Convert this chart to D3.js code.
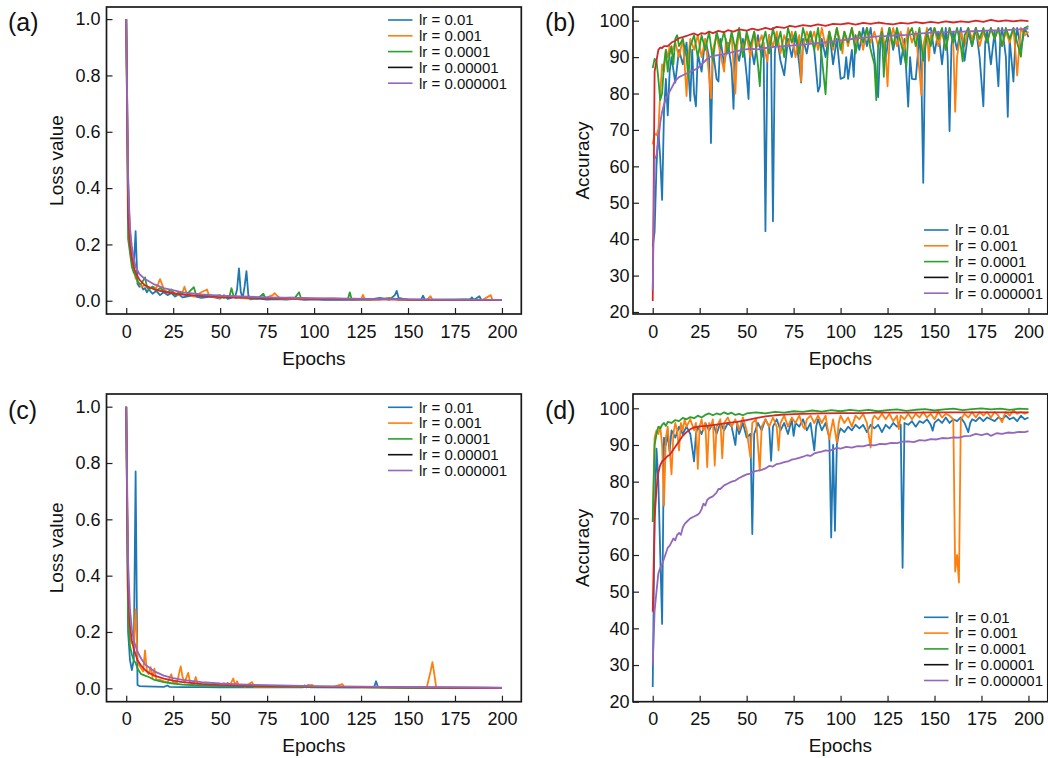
<!DOCTYPE html>
<html>
<head>
<meta charset="utf-8">
<script src="https://cdn.jsdelivr.net/npm/d3@7"></script>
<style>
  body { margin: 0; background: #fff; }
  text { font-family: "Liberation Sans", Arial, sans-serif; fill: #111; }
</style>
</head>
<body>
<svg id="fig" width="1048" height="758"></svg>
<script>
// legend labels, one per learning rate
var lrLabels = ["lr = 0.01", "lr = 0.001", "lr = 0.0001", "lr = 0.00001", "lr = 0.000001"];
var xTicks = [0, 25, 50, 75, 100, 125, 150, 175, 200];
var lossTicks = [0, 0.2, 0.4, 0.6, 0.8, 1.0];
var accTicks = [20, 30, 40, 50, 60, 70, 80, 90, 100];

// (a) loss, [epoch, value]
var a_lr1 = [[0,1.0],[1,0.45],[2,0.2],[3,0.15],[4,0.12],[5,0.247],[6,0.06],[7,0.05],[8,0.055],[9,0.04],[10,0.045],[11,0.03],[12,0.04],[14,0.025],[16,0.035],[18,0.02],[20,0.03],[22,0.02],[24,0.028],[26,0.015],[28,0.022],[30,0.012],[35,0.018],[40,0.01],[45,0.015],[50,0.008],[52,0.02],[54,0.007],[58,0.015],[59,0.04],[60,0.115],[61,0.03],[62,0.01],[63,0.05],[64,0.105],[65,0.02],[66,0.005],[70,0.008],[75,0.004],[80,0.006],[85,0.004],[90,0.007],[95,0.003],[100,0.005],[105,0.003],[110,0.004],[120,0.003],[130,0.005],[135,0.01],[140,0.004],[143,0.02],[144,0.035],[145,0.01],[150,0.003],[157,0.004],[158,0.018],[159,0.003],[170,0.002],[180,0.004],[183,0.004],[184,0.012],[185,0.003],[188,0.016],[189,0.003],[200,0.002]];
var a_lr2 = [[0,1.0],[1,0.39],[2,0.25],[3,0.15],[4,0.11],[5,0.08],[6,0.07],[7,0.06],[8,0.05],[10,0.055],[12,0.04],[14,0.05],[16,0.045],[17,0.06],[18,0.077],[19,0.06],[20,0.04],[22,0.03],[24,0.035],[26,0.025],[28,0.02],[30,0.03],[31,0.05],[32,0.03],[34,0.02],[36,0.015],[40,0.03],[43,0.04],[44,0.02],[46,0.015],[50,0.01],[54,0.015],[60,0.01],[65,0.008],[70,0.01],[75,0.012],[78,0.02],[79,0.027],[80,0.02],[82,0.008],[90,0.006],[100,0.005],[110,0.008],[120,0.005],[125,0.006],[126,0.021],[127,0.005],[135,0.004],[140,0.01],[145,0.003],[150,0.004],[160,0.003],[162,0.016],[163,0.003],[170,0.003],[180,0.002],[190,0.004],[194,0.02],[195,0.003],[200,0.002]];
var a_lr3 = [[0,1.0],[1,0.22],[2,0.17],[3,0.12],[4,0.1],[5,0.09],[6,0.07],[7,0.06],[8,0.06],[10,0.083],[11,0.05],[12,0.04],[14,0.05],[16,0.035],[18,0.045],[20,0.035],[22,0.03],[24,0.04],[26,0.02],[28,0.03],[30,0.025],[32,0.02],[34,0.035],[36,0.048],[37,0.025],[38,0.02],[40,0.015],[42,0.02],[45,0.015],[50,0.02],[52,0.01],[55,0.015],[56,0.045],[57,0.02],[58,0.01],[62,0.015],[65,0.01],[70,0.008],[73,0.025],[74,0.01],[80,0.008],[85,0.01],[90,0.012],[92,0.03],[93,0.01],[100,0.006],[110,0.005],[118,0.006],[119,0.03],[120,0.005],[130,0.004],[140,0.008],[150,0.004],[160,0.003],[170,0.004],[180,0.005],[190,0.003],[200,0.003]];
var a_lr4 = [[0,1.0],[1,0.3],[2,0.2],[3,0.15],[4,0.12],[5,0.1],[7,0.075],[10,0.055],[15,0.04],[20,0.032],[30,0.022],[40,0.017],[50,0.013],[75,0.009],[100,0.006],[150,0.004],[200,0.002]];
var a_lr5 = [[0,1.0],[1,0.42],[2,0.26],[3,0.19],[4,0.15],[5,0.12],[7,0.095],[10,0.077],[15,0.058],[20,0.045],[30,0.03],[40,0.023],[50,0.018],[75,0.012],[100,0.009],[150,0.005],[200,0.003]];

// (b) accuracy
var b_lr1 = [[0,38],[1,42],[2,60],[3,70],[4,62],[5,50.8],[6,75],[7,84],[8,74],[9,86],[10,90],[12,83],[14,92],[16,88],[18,94],[19,86],[20,78],[21,92],[22,80],[23,76.5],[24,91],[26,86],[28,95],[30,90],[31,66.4],[32,92],[34,84],[35,83.3],[36,95],[38,88],[40,94],[42,87],[43,75.8],[44,93],[46,89],[48,95],[50,85],[51,78.5],[52,94],[54,88],[56,96],[58,90],[59,94],[60,42.2],[61,90],[62,96],[63,92],[64,44.9],[65,91],[66,96],[68,89],[70,85],[72,95],[74,90],[76,96],[78,88],[79,83],[80,95],[82,91],[84,97],[86,92],[88,80.5],[89,82],[90,95],[92,90],[94,97],[96,88],[98,95],[100,84],[102,84.5],[103,90],[104,84],[106,92],[107,84.6],[108,96],[110,92],[112,98],[114,93],[116,98],[118,90],[120,79],[121,92],[122,97],[124,89],[126,98],[128,92],[130,97],[132,88],[134,95],[136,76.4],[137,90],[138,84],[140,83.9],[141,90],[142,97],[143,85],[144,55.5],[145,92],[146,97],[148,98],[150,91],[152,97],[154,88],[156,98],[157,90],[158,69.7],[159,93],[160,97],[162,92],[164,98],[166,89],[168,97],[170,93],[172,98],[174,90],[176,76.5],[177,94],[178,97],[180,88],[182,97],[184,82],[185,95],[186,98],[188,90],[189,73.6],[190,95],[192,83.3],[193,94],[194,98],[196,92],[198,98],[200,95.5]];
var b_lr2 = [[0,66],[1,69],[2,68.6],[3,70],[4,80],[5,88],[6,86],[7,92],[8,90],[9,93],[10,91],[12,94],[14,90],[16,95],[17,88],[18,79.3],[19,90],[20,95],[22,92],[24,96],[26,90],[28,95],[30,85],[31,78.7],[32,92],[34,96],[36,91],[38,86],[39,95],[40,92],[42,96],[43,88],[44,80],[45,93],[46,97],[48,92],[50,96],[52,90],[54,97],[56,93],[58,96],[60,91],[61,88.8],[62,96],[64,93],[66,97],[68,91],[70,96],[72,93],[74,97],[76,90],[78,96],[79,83.3],[80,93],[82,97],[84,94],[86,97],[88,92],[90,98],[92,93],[94,97],[96,92],[98,98],[100,94],[101,91],[102,97],[104,93],[106,98],[108,94],[110,97],[112,92],[114,98],[116,94],[118,97],[120,93],[122,98],[124,91],[125,82],[126,94],[128,98],[130,93],[132,97],[134,92],[136,98],[138,94],[140,97],[142,86],[143,79.6],[144,93],[146,98],[147,89],[148,96],[150,98],[152,93],[154,97],[156,92],[158,98],[160,94],[161,75],[162,90],[164,97],[166,93],[168,98],[170,95],[172,98],[174,93],[176,97],[178,94],[180,98],[182,95],[184,98],[186,93],[188,97],[190,94],[192,98],[193,92],[194,85],[195,92],[196,98],[198,96],[200,97]];
var b_lr3 = [[0,87],[1,89.5],[2,89],[3,84],[4,78.2],[5,80],[6,88],[7,92],[8,86],[9,91],[10,93],[11,88],[12,95],[13,96],[14,93],[16,95],[18,90],[19,84.2],[20,93],[22,96],[24,90],[26,96],[28,92],[30,97],[32,89],[34,97],[36,93],[38,97],[40,91],[42,97],[44,92],[46,98],[48,90],[50,97],[52,93],[54,97],[56,88],[57,82],[58,93],[60,97],[62,91],[64,98],[66,93],[68,97],[70,90],[72,98],[74,94],[76,97],[78,91],[80,98],[82,94],[84,97],[86,92],[88,98],[90,90],[92,79.8],[93,90],[94,97],[96,93],[98,98],[100,92],[102,97],[104,94],[106,98],[108,91],[110,97],[112,94],[114,98],[116,92],[118,88],[119,78.2],[120,93],[122,97],[123,84.6],[124,94],[126,98],[128,93],[130,98],[132,94],[134,90],[135,87.4],[136,96],[138,98],[140,93],[142,98],[144,89],[146,97],[148,93],[150,98],[152,95],[154,98],[156,92],[158,98],[160,94],[162,98],[164,93],[165,88.8],[166,96],[168,98],[170,93],[172,98],[174,95],[176,98],[178,94],[180,98],[182,95],[184,98],[186,93],[188,98],[190,95],[192,98],[194,94],[196,90.1],[197,96],[198,98],[200,98.5]];
var b_lr4 = [[0,23],[1,86],[2,89],[3,92],[4,92.6],[5,92.5],[6,93],[8,93],[10,94],[12,94.5],[14,95.2],[16,95.5],[18,95.8],[20,96.2],[22,96.5],[24,96],[26,96.6],[28,96.4],[30,97],[32,96.6],[35,97.2],[38,96.8],[40,97.4],[43,97],[46,97.6],[50,97.3],[53,97.8],[56,97.4],[60,98],[63,97.6],[66,98.3],[70,98],[73,98.6],[76,98.3],[80,98.8],[84,98.5],[88,99],[92,98.6],[96,99.1],[100,99],[104,99.3],[108,98.9],[112,99.4],[116,99.1],[120,99.5],[124,99.2],[128,99],[132,99.4],[136,99.2],[140,99.6],[144,99.3],[148,99.7],[152,99.4],[156,99.8],[160,99.5],[164,99.8],[168,99.6],[172,100],[176,99.7],[180,100.2],[184,99.8],[188,100.1],[192,99.8],[196,100.1],[200,99.9]];
var b_lr5 = [[0,26],[1,62],[2,63],[3,67],[4,72],[5,75],[6,77],[7,78.5],[8,79.5],[9,80.5],[10,81.5],[12,83.5],[14,84.5],[16,85],[18,85.5],[20,86],[22,86.4],[24,87],[26,88],[28,89],[30,90],[33,90.4],[36,90.6],[40,91],[44,91.6],[48,92],[52,92.3],[56,92.1],[60,92.5],[65,92.8],[70,93],[75,93.2],[80,93.4],[85,93.7],[90,94],[95,94.2],[100,94.6],[105,94.9],[110,95.2],[115,95.5],[120,95.7],[125,95.8],[130,96],[135,96.1],[140,96.4],[145,96.6],[150,96.8],[155,96.8],[160,97],[165,97],[170,97.1],[175,97.2],[180,97.3],[185,97.3],[190,97.5],[195,97.6],[200,97.8]];

// (c) loss
var c_lr1 = [[0,1.0],[1,0.2],[2,0.1],[3,0.065],[4,0.1],[5,0.77],[6,0.012],[7,0.008],[10,0.007],[15,0.006],[20,0.005],[22,0.01],[23,0.005],[30,0.004],[40,0.004],[50,0.003],[60,0.003],[80,0.003],[94,0.003],[95,0.01],[96,0.003],[97,0.012],[98,0.003],[100,0.003],[120,0.003],[132,0.005],[133,0.025],[134,0.004],[150,0.002],[200,0.001]];
var c_lr2 = [[0,1.0],[1,0.3],[2,0.18],[3,0.16],[4,0.15],[5,0.28],[6,0.1],[7,0.08],[8,0.07],[9,0.06],[10,0.135],[11,0.06],[12,0.05],[13,0.075],[14,0.04],[15,0.07],[16,0.03],[18,0.03],[20,0.025],[22,0.02],[24,0.05],[25,0.02],[27,0.02],[29,0.078],[30,0.04],[31,0.02],[33,0.055],[34,0.02],[36,0.015],[37,0.04],[38,0.015],[40,0.012],[45,0.01],[50,0.01],[52,0.018],[53,0.008],[54,0.02],[55,0.008],[57,0.035],[58,0.01],[59,0.025],[60,0.008],[62,0.012],[63,0.005],[67,0.022],[68,0.005],[75,0.004],[80,0.006],[90,0.004],[99,0.012],[100,0.004],[110,0.004],[115,0.015],[116,0.004],[130,0.003],[150,0.003],[160,0.004],[162,0.06],[163,0.093],[164,0.05],[165,0.003],[180,0.002],[200,0.001]];
var c_lr3 = [[0,1.0],[1,0.25],[2,0.15],[3,0.12],[4,0.1],[5,0.09],[6,0.07],[7,0.06],[8,0.05],[10,0.045],[12,0.04],[15,0.03],[20,0.022],[25,0.017],[30,0.013],[40,0.01],[50,0.008],[75,0.005],[100,0.004],[150,0.002],[200,0.001]];
var c_lr4 = [[0,1.0],[1,0.35],[2,0.22],[3,0.17],[4,0.14],[5,0.12],[6,0.1],[8,0.08],[10,0.065],[12,0.055],[15,0.045],[20,0.034],[25,0.027],[30,0.022],[40,0.016],[50,0.012],[60,0.01],[75,0.008],[100,0.006],[125,0.004],[150,0.003],[175,0.002],[200,0.001]];
var c_lr5 = [[0,1.0],[1,0.45],[2,0.28],[3,0.21],[4,0.17],[5,0.15],[6,0.13],[8,0.105],[10,0.085],[12,0.075],[15,0.06],[20,0.045],[25,0.036],[30,0.03],[40,0.022],[50,0.017],[60,0.014],[75,0.011],[100,0.008],[125,0.006],[150,0.004],[175,0.003],[200,0.002]];

// (d) accuracy
var d_lr1 = [[0,24],[1,70],[2,89],[3,80],[4,60],[5,41.2],[6,92],[7,90],[8,93],[9,88],[10,94],[12,92],[14,95],[16,93],[18,95],[20,93],[22,85.5],[23,93],[24,95],[26,93],[28,96],[30,94],[32,96],[34,93],[36,96],[38,94],[40,96],[42,95],[44,90],[45,96],[46,93],[48,96],[50,92],[52,93],[53,65.7],[54,93],[56,96],[58,94],[60,97],[62,95],[63,85.7],[64,95],[66,97],[68,94],[70,96],[72,93],[74,97],[75,92.5],[76,96],[78,95],[80,97],[82,94],[84,96],[86,88.5],[87,95],[88,97],[90,94],[92,96],[94,92],[95,64.8],[96,90],[97,66.6],[98,90],[99,93],[100,94.5],[102,93.5],[104,95],[106,94],[108,95.5],[110,94.5],[112,95.5],[114,93.5],[116,95.5],[118,94.5],[120,95.5],[122,93.5],[124,95.5],[126,94.5],[128,96],[130,95],[132,95.5],[133,56.5],[134,96],[136,95.5],[138,96.5],[140,95],[142,96.5],[144,96],[146,97],[148,95.5],[149,93.9],[150,96],[152,97],[154,96],[156,97.5],[158,96],[160,97],[162,96.5],[164,97.5],[166,96],[168,93.5],[169,96],[170,97],[172,96.5],[174,97.5],[176,96.5],[178,97.5],[180,97],[182,96.5],[184,97.5],[186,97],[188,98],[190,97],[192,97.5],[194,96.5],[196,98],[198,97],[200,97.5]];
var d_lr2 = [[0,69],[1,92],[2,94],[3,93],[4,95],[5,90],[6,73.5],[7,92],[8,95],[9,89],[10,82],[11,93],[12,96],[13,94],[14,88.5],[15,96],[16,94],[17,97],[18,95],[20,97],[22,94],[23,96],[24,83.5],[25,95],[26,97],[27,94],[28,96],[29,84],[30,96],[31,95],[32,97],[33,84.4],[34,95],[36,97],[37,86.4],[38,96],[40,97.5],[42,95],[44,97],[46,94],[48,97.5],[50,94],[52,86.6],[53,96],[55,97],[56,90],[57,83],[58,95],[60,97],[62,95],[64,97.5],[66,95],[67,88.5],[68,96],[70,98],[72,95],[74,97.5],[76,96],[78,98],[80,95],[81,94.4],[82,97],[84,98],[86,96],[88,98],[90,96],[92,98],[94,91.6],[96,97],[98,90.7],[99,96],[100,98],[102,96],[104,97.5],[106,95],[108,98],[110,97],[112,98.5],[114,96],[116,89.3],[117,97],[118,98],[120,97],[122,98.5],[124,97],[126,98.5],[128,96.5],[130,98],[131,94.3],[132,98],[134,97],[136,98.5],[138,97],[140,98.5],[142,97.5],[144,99],[146,97.5],[148,98.5],[150,97],[152,99],[154,97.5],[156,98.5],[158,98],[160,97],[161,55.5],[162,60],[163,52.5],[164,97],[166,98.5],[168,97.5],[170,99],[172,97.5],[174,99],[176,98],[178,99],[180,97.5],[182,99],[184,98],[186,96.2],[187,98],[188,99],[190,98],[192,99.5],[194,98.5],[196,99],[198,98.5],[200,99]];
var d_lr3 = [[0,69],[1,90],[2,93],[3,95],[4,94.5],[5,95.5],[6,96],[7,95.2],[8,96.3],[10,96],[12,96.8],[14,96.5],[16,97.4],[18,97],[20,97.6],[22,97.3],[24,98],[26,97.5],[28,98.2],[30,98.6],[32,98.1],[34,98.6],[36,98.3],[38,98.9],[40,98.4],[42,98.8],[44,98.2],[46,98.5],[48,98.1],[50,98.6],[55,98.9],[60,98.6],[65,99],[70,98.8],[75,99.2],[80,99],[85,99.4],[90,99.1],[95,99.5],[100,99.2],[105,99.6],[110,99.3],[115,99.6],[120,99.2],[125,99.5],[130,99.7],[135,99.3],[140,99.6],[145,99.8],[150,99.4],[155,99.7],[160,99.9],[165,99.5],[170,99.8],[175,100],[180,99.7],[185,99.9],[190,99.6],[195,99.9],[200,99.8]];
var d_lr4 = [[0,44.5],[1,70],[2,78],[3,82.5],[4,84.5],[5,85.5],[6,86],[7,86.5],[8,87],[9,87.3],[10,88],[12,89.5],[14,91],[16,92.5],[18,93.5],[20,94.3],[22,94.8],[25,95.1],[30,95.3],[35,95.6],[40,96],[45,96.3],[50,96.8],[55,97.3],[60,97.8],[65,98.1],[70,98.3],[75,98.4],[80,98.5],[90,98.6],[100,98.7],[110,98.7],[120,98.8],[130,98.8],[140,98.8],[150,98.9],[160,98.9],[170,98.9],[180,98.9],[190,98.9],[200,98.9]];
var d_lr5 = [[0,30],[1,44.7],[2,50],[3,55],[4,56.5],[5,57.5],[6,59],[7,60.5],[8,62],[9,62.5],[10,63.5],[11,64.5],[12,64],[13,65.5],[14,66],[15,65.5],[16,67.5],[17,68.5],[18,69],[19,69.5],[20,70],[22,70.5],[24,71],[25,71.5],[26,72.5],[27,74],[28,73.5],[29,75],[30,75.5],[32,76],[34,77],[35,78],[36,78],[38,79],[40,79.5],[42,80],[44,80.3],[46,81],[48,81.5],[50,82],[52,82.2],[54,82.8],[56,83],[58,83.2],[60,83.6],[62,84.3],[64,84.1],[66,84.8],[68,85],[70,85.3],[72,85.5],[74,86],[76,86.2],[78,86.5],[80,86.8],[82,87.2],[84,87],[86,87.7],[88,88],[90,88.2],[92,88.5],[94,88.4],[96,88.8],[98,89.2],[100,89],[103,89.5],[106,89.3],[109,89.7],[112,89.6],[115,90],[118,89.9],[121,90.3],[124,90.2],[127,90.6],[130,90.5],[133,90.9],[136,91],[139,90.8],[142,91.3],[145,91.2],[148,91.6],[151,91.5],[154,91.9],[157,91.8],[160,92.1],[163,92],[166,92.4],[169,92.5],[172,93],[175,92.7],[178,93.1],[180,92.5],[183,93.2],[186,93],[189,93.4],[192,93.3],[195,93.6],[198,93.5],[200,93.8]];

// plotted colours (lr=0.00001 is drawn red, its legend swatch is black)
var lineColors = ["#1f77b4", "#ff7f0e", "#2ca02c", "#d62728", "#9467bd"];
var legendColors = ["#1f77b4", "#ff7f0e", "#2ca02c", "#111111", "#9467bd"];

var panels = [
  {tag: "(a)", tagX: 8, tagY: 31, left: 106.5, right: 521.3, top: 7, bottom: 314, yDom: [-0.047, 1.043], yTicks: lossTicks, fmt: d3.format(".1f"), yLab: "Loss value", yLabX: 62.5, yPad: 6, series: [a_lr1, a_lr2, a_lr3, a_lr4, a_lr5], legX: 388, legY: 20},
  {tag: "(b)", tagX: 545, tagY: 31, left: 633, right: 1047.8, top: 7, bottom: 314, yDom: [19.45, 103.76], yTicks: accTicks, fmt: d3.format("d"), yLab: "Accuracy", yLabX: 588.5, yPad: 3.5, series: [b_lr1, b_lr2, b_lr3, b_lr4, b_lr5], legX: 924, legY: 230},
  {tag: "(c)", tagX: 8, tagY: 419, left: 106.5, right: 521.3, top: 394, bottom: 701.7, yDom: [-0.0476, 1.0451], yTicks: lossTicks, fmt: d3.format(".1f"), yLab: "Loss value", yLabX: 62.5, yPad: 6, series: [c_lr1, c_lr2, c_lr3, c_lr4, c_lr5], legX: 388, legY: 407.3},
  {tag: "(d)", tagX: 545, tagY: 419, left: 633, right: 1047.8, top: 394, bottom: 701.7, yDom: [20, 103.9], yTicks: accTicks, fmt: d3.format("d"), yLab: "Accuracy", yLabX: 588.5, yPad: 3.5, series: [d_lr1, d_lr2, d_lr3, d_lr4, d_lr5], legX: 924, legY: 617.3}
];

var svg = d3.select("#fig");

panels.forEach(function(p, k) {
    var xScale = d3.scaleLinear().domain([-10.5, 210.3]).range([p.left, p.right]);
    var yScale = d3.scaleLinear().domain(p.yDom).range([p.bottom, p.top]);

    //clip region for the data lines
    svg.append("clipPath").attr("id", "clip" + k)
        .append("rect")
        .attr("x", p.left).attr("y", p.top)
        .attr("width", p.right - p.left).attr("height", p.bottom - p.top);

    var line = d3.line()
        .x(d => xScale(d[0]))
        .y(d => yScale(d[1]));

    var g = svg.append("g").attr("clip-path", "url(#clip" + k + ")");
    p.series.forEach(function(s, i) {
        g.append("path")
            .datum(s)
            .attr("d", line)
            .attr("fill", "none")
            .attr("stroke", lineColors[i])
            .attr("stroke-width", 1.8)
            .attr("stroke-linejoin", "round");
    });

    //x axis, ticks pointing inward
    var bottomAxis = d3.axisBottom(xScale).tickValues(xTicks)
        .tickSizeInner(-6).tickSizeOuter(0).tickPadding(11);
    var xg = svg.append("g")
        .attr("transform", `translate(0, ${p.bottom})`)
        .call(bottomAxis);

    //y axis
    var leftAxis = d3.axisLeft(yScale).tickValues(p.yTicks).tickFormat(p.fmt)
        .tickSizeInner(-6).tickSizeOuter(0).tickPadding(p.yPad);
    var yg = svg.append("g")
        .attr("transform", `translate(${p.left}, 0)`)
        .call(leftAxis);

    [xg, yg].forEach(function(ax) {
        ax.select(".domain").remove();
        ax.selectAll(".tick line").attr("stroke", "#222").attr("stroke-width", 1.2);
        ax.selectAll(".tick text")
            .attr("font-size", "18px")
            .attr("fill", "#111")
            .style("font-family", '"Liberation Sans", Arial, sans-serif');
    });

    //frame
    svg.append("rect")
        .attr("x", p.left).attr("y", p.top)
        .attr("width", p.right - p.left).attr("height", p.bottom - p.top)
        .attr("fill", "none").attr("stroke", "#1a1a1a").attr("stroke-width", 1.7);

    //axis titles
    svg.append("text")
        .attr("x", (p.left + p.right) / 2)
        .attr("y", p.bottom + 50.5)
        .attr("text-anchor", "middle")
        .attr("font-size", "19px")
        .text("Epochs");

    svg.append("text")
        .attr("transform", `translate(${p.yLabX}, ${(p.top + p.bottom) / 2}) rotate(-90)`)
        .attr("text-anchor", "middle")
        .attr("font-size", "19px")
        .text(p.yLab);

    //panel tag
    svg.append("text")
        .attr("x", p.tagX).attr("y", p.tagY)
        .attr("font-size", "25px")
        .text(p.tag);

    //legend
    var leg = svg.append("g");
    lrLabels.forEach(function(lab, i) {
        var yy = p.legY + i * 15.8;
        leg.append("line")
            .attr("x1", p.legX).attr("x2", p.legX + 24.5)
            .attr("y1", yy).attr("y2", yy)
            .attr("stroke", legendColors[i]).attr("stroke-width", 1.6);
        leg.append("text")
            .attr("x", p.legX + 31).attr("y", yy + 5.3)
            .attr("font-size", "15px")
            .text(lab);
    });
});
</script>
</body>
</html>
